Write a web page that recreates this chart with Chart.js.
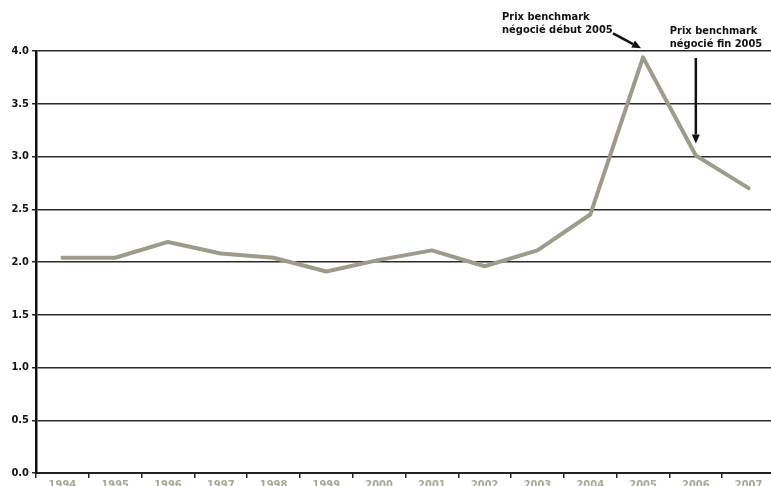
<!DOCTYPE html>
<html>
<head>
<meta charset="utf-8">
<script src="https://cdn.jsdelivr.net/npm/chart.js@4/dist/chart.umd.min.js"></script>
<style>
  html, body { margin: 0; padding: 0; background: #fff; overflow: hidden; }
  .wrap { width: 775px; height: 496px; position: relative; }
</style>
</head>
<body>
<div class="wrap"><canvas class="price-chart"></canvas></div>
<script>
const years = ['1994', '1995', '1996', '1997', '1998', '1999', '2000', '2001', '2002', '2003', '2004', '2005', '2006', '2007']
const prices = [2.04, 2.04, 2.19, 2.08, 2.04, 1.91, 2.02, 2.11, 1.96, 2.11, 2.45, 3.94, 3.01, 2.70]
const yTicks = [0, 0.5, 1, 1.5, 2, 2.5, 3, 3.5, 4]

const FONT = '"DejaVu Sans Condensed", "DejaVu Sans", sans-serif'
const ctx = document.querySelector('.price-chart')

function arrow(c, x1, y1, x2, y2) {
    const a = Math.atan2(y2 - y1, x2 - x1)
    const head = 9, half = 4
    const bx = x2 - head * Math.cos(a), by = y2 - head * Math.sin(a)
    c.beginPath()
    c.moveTo(x1, y1)
    c.lineTo(bx, by)
    c.lineWidth = 2.5
    c.strokeStyle = '#111'
    c.stroke()
    c.beginPath()
    c.moveTo(x2, y2)
    c.lineTo(bx + half * Math.sin(a), by - half * Math.cos(a))
    c.lineTo(bx - half * Math.sin(a), by + half * Math.cos(a))
    c.closePath()
    c.fillStyle = '#111'
    c.fill()
}

// callouts for the two 2005 benchmark negotiations
const callouts = {
    id: 'callouts',
    afterDatasetsDraw(chart) {
        const c = chart.ctx
        const x = chart.scales.x, y = chart.scales.y
        const px1 = x.getPixelForValue(11), py1 = y.getPixelForValue(prices[11])
        const px2 = x.getPixelForValue(12), py2 = y.getPixelForValue(prices[12])
        c.save()
        c.font = 'bold 11px ' + FONT
        c.fillStyle = '#111'
        c.textAlign = 'left'
        c.textBaseline = 'alphabetic'
        c.fillText('Prix benchmark', px1 - 141, 20)
        c.fillText('négocié début 2005', px1 - 141, 33)
        arrow(c, px1 - 30, py1 - 24, px1 - 2, py1 - 9)
        c.fillText('Prix benchmark', px2 - 26, 34)
        c.fillText('négocié fin 2005', px2 - 26, 47)
        arrow(c, px2, 58, px2, py2 - 12)
        c.restore()
    }
}

new Chart(ctx, {
    type: 'line',
    data: {
        labels: years,
        datasets: [{
            label: 'Prix',
            data: prices,
            borderColor: '#9d9b8a',
            borderWidth: 4,
            pointRadius: 0,
            tension: 0,
            borderCapStyle: 'round',
            borderJoinStyle: 'round'
        }]
    },
    options: {
        responsive: true,
        maintainAspectRatio: false,
        animation: false,
        layout: { padding: { top: 51, right: 0, left: 0, bottom: 0 } },
        scales: {
            x: {
                offset: true,
                afterFit: s => { s.height = 23 },
                grid: {
                    offset: true,
                    drawOnChartArea: false,
                    drawTicks: true,
                    tickLength: 5,
                    color: '#222',
                    lineWidth: 1.5
                },
                border: { display: true, color: '#222', width: 2 },
                ticks: {
                    color: '#a8a696',
                    padding: 1,
                    maxRotation: 0,
                    autoSkip: false,
                    font: { family: FONT, size: 11, weight: 'bold' }
                }
            },
            y: {
                min: 0,
                max: 4,
                afterFit: s => { s.width = 36 },
                afterBuildTicks: s => { s.ticks = yTicks.map(v => ({ value: v })) },
                grid: {
                    color: '#2a2a2a',
                    lineWidth: 1.5,
                    drawTicks: true,
                    tickLength: 4
                },
                border: { display: true, color: '#111', width: 2.5 },
                ticks: {
                    color: '#111',
                    padding: 3,
                    callback: v => v.toFixed(1),
                    font: { family: FONT, size: 11, weight: 'bold' }
                }
            }
        },
        plugins: {
            legend: { display: false },
            tooltip: { enabled: false }
        }
    },
    plugins: [callouts]
})
</script>
</body>
</html>
